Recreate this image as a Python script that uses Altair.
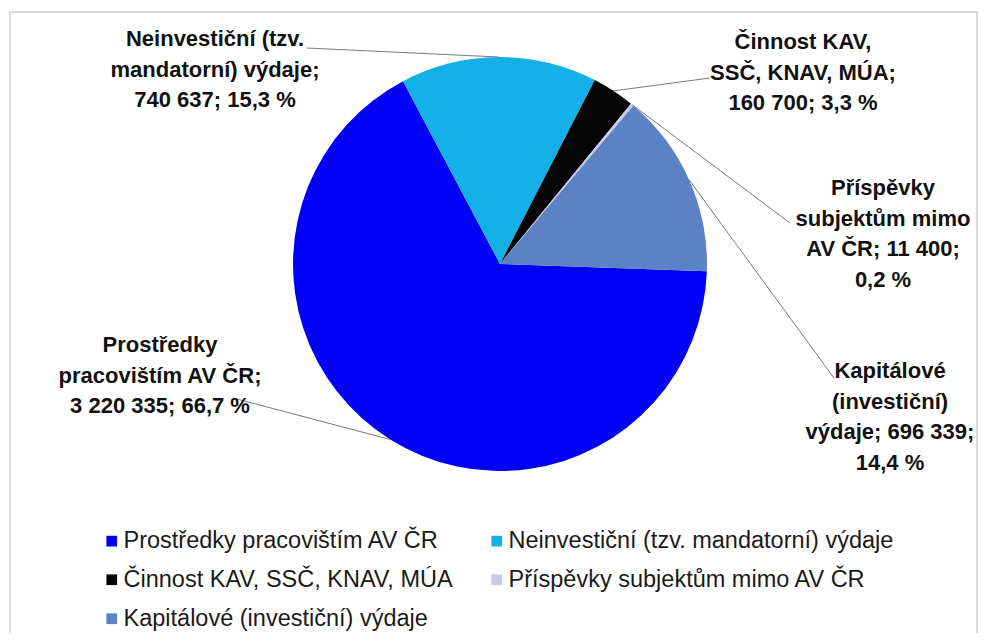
import math
import altair as alt
import pandas as pd

# ---------------- data ----------------
categories = [
    "Prostředky pracovištím AV ČR",
    "Neinvestiční (tzv. mandatorní) výdaje",
    "Činnost KAV, SSČ, KNAV, MÚA",
    "Příspěvky subjektům mimo AV ČR",
    "Kapitálové (investiční) výdaje",
]
values = [3220335, 740637, 160700, 11400, 696339]
label_names = [
    "Prostředky\npracovištím AV ČR;",
    "Neinvestiční (tzv.\nmandatorní) výdaje;",
    "Činnost KAV,\nSSČ, KNAV, MÚA;",
    "Příspěvky\nsubjektům mimo\nAV ČR;",
    "Kapitálové\n(investiční)\nvýdaje;",
]
colors = ["#0000F6", "#14B0E8", "#050505", "#C8C8F2", "#5A82C4"]

# ---------------- layout ----------------
W, H = 970, 625
CX, CY, R = 492, 256, 207          # pie centre / radius (plot px)
START_DEG = 92.0                   # angle of first slice (clockwise from 12 o'clock)
# label x centre / first-line baseline and leader-line anchors (plot px)
label_xy = [(152, 344), (207, 38), (795, 41), (875, 187), (882, 370)]
anchor_xy = [(225, 390), (299, 40), (702, 70), (782, 215), (826, 370)]


def fmt_int(v):
    return f"{v:,}".replace(",", " ")


total = sum(values)
texts = []
edge = []
acc = 0.0
for i, v in enumerate(values):
    pct = f"{v / total * 100:.1f}".replace(".", ",") + " %"
    name = label_names[i]
    if i in (0, 1, 2):
        t = f"{name}\n{fmt_int(v)}; {pct}"
    else:
        t = f"{name} {fmt_int(v)};\n{pct}"
    texts.append(t)
    mid = math.radians(START_DEG) + 2 * math.pi * (acc + v / 2) / total
    acc += v
    edge.append((CX + R * math.sin(mid), CY - R * math.cos(mid)))

pie_df = pd.DataFrame({"category": categories, "value": values, "idx": range(len(values))})
lab_df = pd.DataFrame({
    "text": texts,
    "x": [p[0] for p in label_xy],
    "y": [p[1] for p in label_xy],
})
lead_df = pd.DataFrame({
    "x": [p[0] for p in edge],
    "y": [p[1] for p in edge],
    "x2": [p[0] for p in anchor_xy],
    "y2": [p[1] for p in anchor_xy],
})

start = math.radians(START_DEG)

border = alt.Chart(pd.DataFrame({"a": [0]})).mark_rect(
    fill="white", stroke="#cfcfcf", strokeWidth=1.5
).encode(x=alt.value(2), x2=alt.value(969), y=alt.value(4), y2=alt.value(660))

pie = alt.Chart(pie_df).mark_arc(outerRadius=R).encode(
    theta=alt.Theta("value:Q", stack=True, scale=alt.Scale(range=[start, start + 2 * math.pi])),
    order=alt.Order("idx:Q"),
    color=alt.Color(
        "category:N",
        sort=categories,
        scale=alt.Scale(domain=categories, range=colors),
        legend=alt.Legend(
            title=None,
            orient="none",
            legendX=92,
            legendY=521,
            direction="horizontal",
            columns=2,
            columnPadding=32,
            rowPadding=14,
            symbolType="square",
            symbolSize=115,
            symbolStrokeWidth=0,
            labelFont="Liberation Sans",
            labelFontSize=23.5,
            labelColor="#1a1a1a",
            labelOffset=0,
            labelLimit=600,
        ),
    ),
    x=alt.value(CX),
    y=alt.value(CY),
)

leads = alt.Chart(lead_df).mark_rule(color="#7a7a7a", strokeWidth=1).encode(
    x=alt.X("x:Q", scale=None, axis=None),
    y=alt.Y("y:Q", scale=None, axis=None),
    x2="x2:Q",
    y2="y2:Q",
)

labels = alt.Chart(lab_df).mark_text(
    lineBreak="\n",
    align="center",
    baseline="alphabetic",
    font="Liberation Sans",
    fontWeight="bold",
    fontSize=22,
    lineHeight=30.5,
    color="#111111",
).encode(
    x=alt.X("x:Q", scale=None, axis=None),
    y=alt.Y("y:Q", scale=None, axis=None),
    text="text:N",
)

chart = alt.layer(border, pie, leads, labels).properties(
    width=W, height=H, padding=0, autosize="none", background="white"
).configure_view(stroke=None)

chart.save("out.html", embed_options={"renderer": "svg", "actions": False})
